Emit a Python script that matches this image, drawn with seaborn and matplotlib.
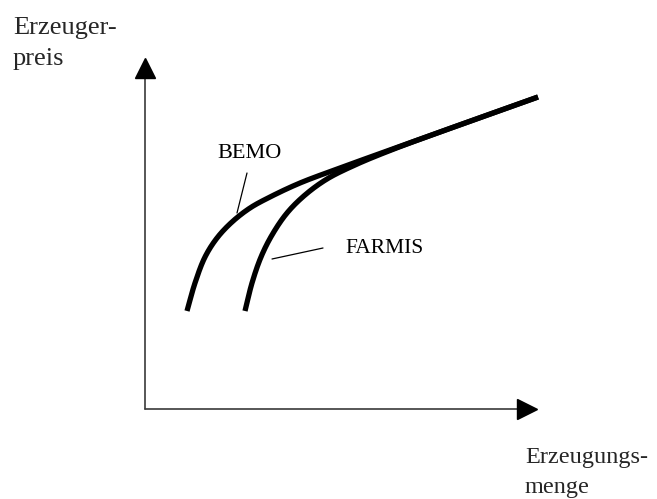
import pandas as pd
import numpy as np
import matplotlib
matplotlib.use("Agg")
import matplotlib.pyplot as plt
import seaborn as sns

# Curve points (schematic units, origin at the axis corner)
bemo_x = [42, 50, 60, 72, 87, 105, 125, 155, 195, 228, 295, 393]
bemo_y = [98, 126, 152, 171, 187, 201, 212, 226, 241, 253, 277, 312]
farmis_x = [100, 107, 116, 127, 142, 160, 182, 210, 245, 295, 393]
farmis_y = [98, 126, 152, 174, 196, 214, 230, 244, 258.5, 277, 312]

# Axis extents
x_axis_end = 382
y_axis_end = 341

# Curve labels and pointer lines
curve_labels = ["BEMO", "FARMIS"]
label_pos = [(104, 255), (200, 161)]
pointer_lines = [((102, 236), (92, 196)), ((178, 161), (127, 150))]

y_label = "Erzeuger-\npreis"
x_label = "Erzeugungs-\nmenge"


def catmull_rom(xs, ys, n=40, alpha=0.5):
    # centripetal Catmull-Rom through the read-off points
    p = np.column_stack([xs, ys]).astype(float)
    p = np.vstack([2 * p[0] - p[1], p, 2 * p[-1] - p[-2]])
    out = []
    for i in range(1, len(p) - 2):
        p0, p1, p2, p3 = p[i - 1], p[i], p[i + 1], p[i + 2]
        t0 = 0.0
        t1 = t0 + np.linalg.norm(p1 - p0) ** alpha
        t2 = t1 + np.linalg.norm(p2 - p1) ** alpha
        t3 = t2 + np.linalg.norm(p3 - p2) ** alpha
        t = np.linspace(t1, t2, n, endpoint=False)[:, None]
        a1 = (t1 - t) / (t1 - t0) * p0 + (t - t0) / (t1 - t0) * p1
        a2 = (t2 - t) / (t2 - t1) * p1 + (t - t1) / (t2 - t1) * p2
        a3 = (t3 - t) / (t3 - t2) * p2 + (t - t2) / (t3 - t2) * p3
        b1 = (t2 - t) / (t2 - t0) * a1 + (t - t0) / (t2 - t0) * a2
        b2 = (t3 - t) / (t3 - t1) * a2 + (t - t1) / (t3 - t1) * a3
        out.append((t2 - t) / (t2 - t1) * b1 + (t - t1) / (t2 - t1) * b2)
    out.append(p[-2][None, :])
    out = np.vstack(out)
    return out[:, 0], out[:, 1]


sns.set_style("white")
plt.rcParams["font.family"] = ["Liberation Serif", "DejaVu Serif"]

fig = plt.figure(figsize=(6.57, 4.99), dpi=100)
ax = fig.add_axes([0, 0, 1, 1])

# axes with arrowheads
ax.plot([0, 0], [0, y_axis_end], color="#3a3a3a", lw=1.2, zorder=2)
ax.plot([0, x_axis_end], [0, 0], color="#3a3a3a", lw=1.2, zorder=2)
ax.plot([0], [y_axis_end], marker="^", ms=15, color="black", zorder=3)
ax.plot([x_axis_end], [0], marker=">", ms=15, color="black", zorder=3)

for cx, cy in [(bemo_x, bemo_y), (farmis_x, farmis_y)]:
    sx, sy = catmull_rom(cx, cy)
    smooth = pd.DataFrame({"x": sx, "y": sy})
    sns.lineplot(data=smooth, x="x", y="y", sort=False, estimator=None,
                 color="black", lw=3.8, ax=ax, solid_capstyle="butt")

for lab, (lx, ly), (p0, p1) in zip(curve_labels, label_pos, pointer_lines):
    ha = "center" if lab == "BEMO" else "left"
    ax.text(lx, ly, lab, fontsize=16 if lab == "BEMO" else 15.5,
            ha=ha, va="center", color="black")
    ax.plot([p0[0], p1[0]], [p0[1], p1[1]], color="black", lw=0.9)

ax.text(-132, 392, y_label, fontsize=19, ha="left", va="top", linespacing=1.5)
ax.text(380, -38, x_label, fontsize=17.5, ha="left", va="top", linespacing=1.55)

ax.set_xlim(-145, 512)
ax.set_ylim(-90, 409)
ax.axis("off")

plt.savefig("out.png", dpi=100)
